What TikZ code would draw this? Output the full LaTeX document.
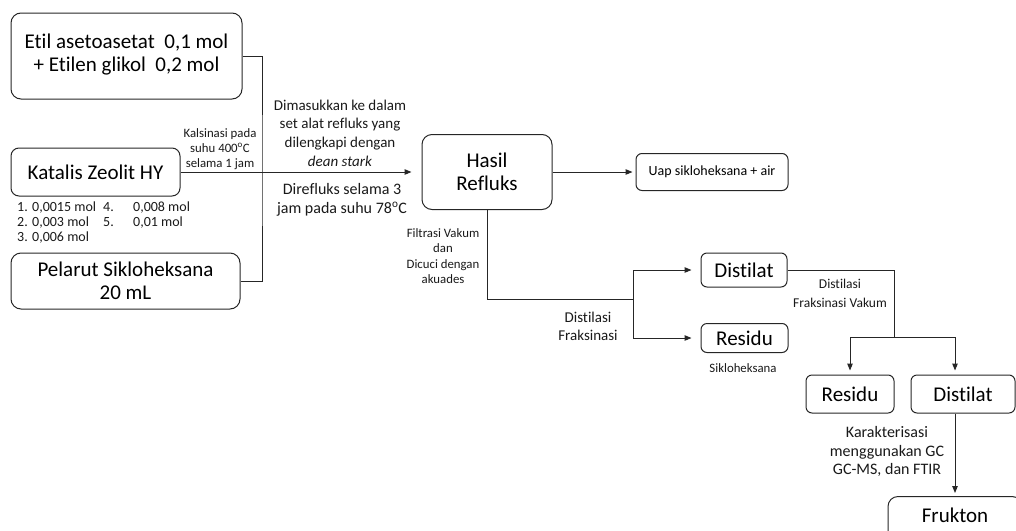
\documentclass[tikz,border=0pt]{standalone}
\usepackage{fontspec}
\setmainfont{Carlito}[Ligatures=NoCommon]
\usetikzlibrary{arrows.meta,calc}
\tikzset{
  bigbox/.style={draw=black!85, line width=1pt, rounded corners=10pt, font=\fontsize{21}{23}\selectfont, align=center, inner sep=0pt},
  smallbox/.style={bigbox, rounded corners=6pt},
  lbl/.style={align=center, inner sep=0pt, text=black!90},
  conn/.style={draw=black!85, line width=1pt},
  arr/.style={conn, -{Triangle[length=7pt,width=5.5pt]}},
}
\begin{document}
\begin{tikzpicture}[x=1pt,y=-1pt]
\useasboundingbox (0,0) rectangle (1016,530);
\clip (0,0) rectangle (1016,530);

% boxes
\node[bigbox, minimum width=231, minimum height=86] (etil) at (126.5,56) {Etil asetoasetat\ \ 0,1 mol\\+ Etilen glikol\ \ 0,2 mol\rule[-6pt]{0pt}{6pt}};
\node[bigbox, rounded corners=8pt, minimum width=169, minimum height=48] (kat) at (95.5,172) {Katalis Zeolit HY};
\node[bigbox, minimum width=229, minimum height=56] (pel) at (125.5,281) {Pelarut Sikloheksana\\20 mL};
\node[bigbox, minimum width=130, minimum height=75] (hasil) at (487,172) {Hasil\\Refluks};
\node[smallbox, font=\fontsize{14}{16}\selectfont, minimum width=152, minimum height=37] (uap) at (712,172) {Uap sikloheksana + air};
\node[smallbox, minimum width=86, minimum height=34] (dist1) at (744,270) {Distilat};
\node[smallbox, minimum width=87, minimum height=29] (res1) at (744.5,338) {Residu};
\node[smallbox, minimum width=88, minimum height=38] (res2) at (850,394) {Residu};
\node[smallbox, minimum width=104, minimum height=38] (dist2) at (963,394) {Distilat};
\node[bigbox, anchor=north, minimum width=134, inner ysep=4pt, text height=22pt, text depth=30pt] (fruk) at (955,496) {Frukton};

% list of catalyst amounts
\node[lbl, anchor=base west, font=\fontsize{14}{15}\selectfont] (l1) at (17,211.5) {\makebox[15pt][l]{1.}0,0015 mol};
\node[lbl, anchor=base west, font=\fontsize{14}{15}\selectfont] (l2) at (17,226.5) {\makebox[15pt][l]{2.}0,003 mol};
\node[lbl, anchor=base west, font=\fontsize{14}{15}\selectfont] (l3) at (17,241.5) {\makebox[15pt][l]{3.}0,006 mol};
\node[lbl, anchor=base west, font=\fontsize{14}{15}\selectfont] (l4) at (103,211.5) {\makebox[30pt][l]{4.}0,008 mol};
\node[lbl, anchor=base west, font=\fontsize{14}{15}\selectfont] (l5) at (103,226.5) {\makebox[30pt][l]{5.}0,01 mol};

% labels
\node[lbl, font=\fontsize{12.8}{15}\selectfont] (kals) at (220,149) {Kalsinasi pada\\suhu 400\textsuperscript{o}C\\selama 1 jam};
\node[lbl, font=\fontsize{15}{18.7}\selectfont] (dimas) at (340,133) {Dimasukkan ke dalam\\set alat refluks yang\\dilengkapi dengan\\\textit{dean stark}};
\node[lbl, font=\fontsize{16}{18.5}\selectfont] (diref) at (342,200) {Direfluks selama 3\\jam pada suhu 78\textsuperscript{o}C};
\node[lbl, font=\fontsize{12.8}{15.3}\selectfont] (filt) at (443,256) {Filtrasi Vakum\\dan\\Dicuci dengan\\akuades};
\node[lbl, font=\fontsize{15}{18}\selectfont] (dfrak) at (588,326) {Distilasi\\Fraksinasi};
\node[lbl, font=\fontsize{12.8}{15}\selectfont] (siklo) at (743,368) {Sikloheksana};
\node[lbl, font=\fontsize{13.5}{19}\selectfont] (dfv) at (840,293.5) {Distilasi\\Fraksinasi Vakum};
\node[lbl, font=\fontsize{16}{18.5}\selectfont] (karak) at (887,451.5) {Karakterisasi\\menggunakan GC\\GC-MS, dan FTIR};

% junctions
\coordinate (jx) at (262,172);
\coordinate (j2) at (633,299);
\coordinate (j3) at (894,337);

% connectors
\draw[conn] (etil.east) -| (jx) |- (pel.east);
\draw[arr, shorten >=10pt] (kat.east) -- (hasil.west);
\draw[arr, shorten >=3pt] (hasil.east) -- (uap.west);
\draw[conn] (hasil.south) |- (j2);
\draw[arr, shorten >=9pt] (j2) |- (dist1.west);
\draw[arr, shorten >=9pt] (j2) |- (res1.west);
\draw[conn] (dist1.east) -| (j3);
\draw[arr, shorten >=4pt] (j3) -| (res2.north);
\draw[arr, shorten >=4pt] (j3) -| ([xshift=-8pt]dist2.north);
\draw[arr, shorten >=3pt] (fruk.north |- dist2.south) -- (fruk.north);
\end{tikzpicture}
\end{document}
